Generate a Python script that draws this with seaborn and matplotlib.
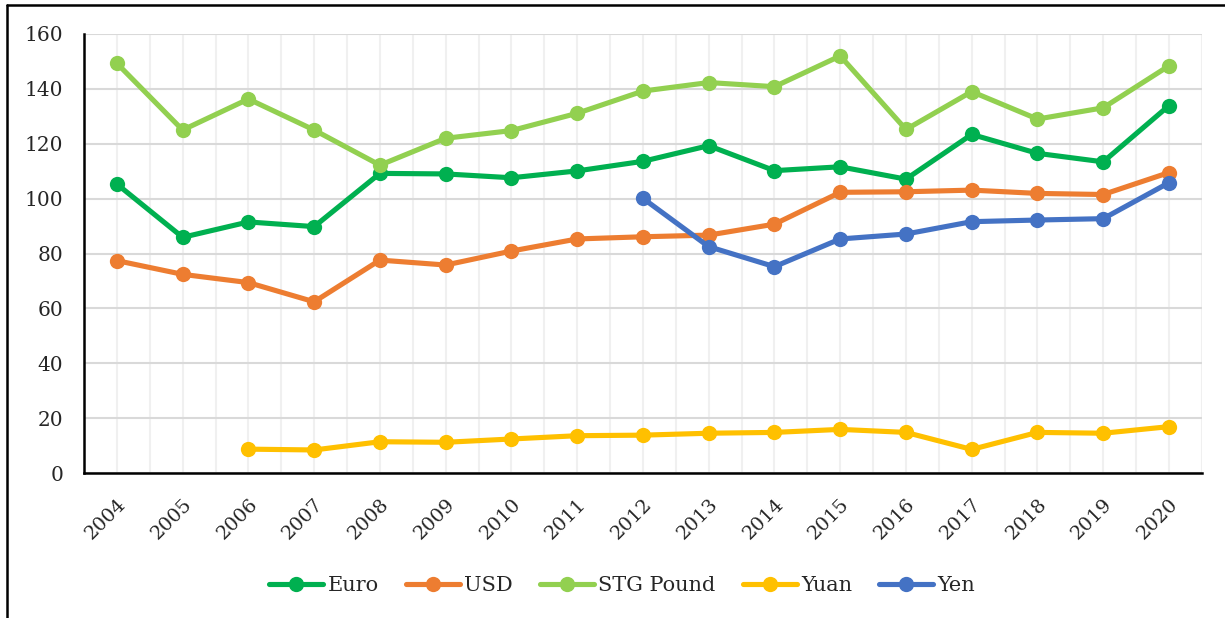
import numpy as np
import pandas as pd
import seaborn as sns
import matplotlib.pyplot as plt
from matplotlib.lines import Line2D
from matplotlib.ticker import MultipleLocator

# dados
years = list(range(2004, 2021))
euro = [105.3, 85.9, 91.5, 89.8, 109.2, 109.0, 107.6, 110.1, 113.6, 119.3, 110.2, 111.6, 107.1, 123.4, 116.5, 113.4, 133.9]
usd = [77.4, 72.4, 69.4, 62.4, 77.6, 75.8, 80.9, 85.3, 86.1, 86.7, 90.7, 102.3, 102.5, 103.1, 101.9, 101.5, 109.5]
stg = [149.3, 125.0, 136.3, 125.0, 112.2, 122.0, 124.8, 131.1, 139.2, 142.3, 140.8, 152.0, 125.2, 139.0, 129.0, 133.1, 148.4]
yuan = [np.nan, np.nan, 8.7, 8.4, 11.4, 11.2, 12.4, 13.6, 13.8, 14.5, 14.8, 15.9, 14.8, 8.6, 14.8, 14.5, 16.9]
yen = [np.nan] * 8 + [100.1, 82.5, 75.2, 85.3, 87.1, 91.6, 92.2, 92.7, 105.8]

series = {'Euro': euro, 'USD': usd, 'STG Pound': stg, 'Yuan': yuan, 'Yen': yen}
cores = {'Euro': '#00B050', 'USD': '#ED7D31', 'STG Pound': '#92D050',
         'Yuan': '#FFC000', 'Yen': '#4472C4'}

dados = pd.DataFrame([
    {'Ano': a, 'Valor': v, 'Moeda': nome}
    for nome, vals in series.items() for a, v in zip(years, vals)
]).dropna()

sns.set_style('white')
plt.rcParams['font.family'] = ['DejaVu Serif']

fig = plt.figure(figsize=(12.25, 6.18), dpi=100)
ax = fig.add_axes([0.0686, 0.2346, 0.9125, 0.7104])

sns.lineplot(data=dados, x='Ano', y='Valor', hue='Moeda', palette=cores,
             hue_order=list(series.keys()), marker='o', markersize=11,
             markeredgewidth=0, linewidth=3.7, legend=False, ax=ax, zorder=3)

ax.set_xlim(2003.5, 2020.5)
ax.set_ylim(0, 160)
ax.set_xticks(years)
ax.set_xticklabels([str(a) for a in years], rotation=45, ha='right',
                   rotation_mode='anchor', fontsize=14)
ax.xaxis.set_minor_locator(MultipleLocator(0.5))
ax.set_yticks(range(0, 161, 20))
ax.tick_params(axis='y', labelsize=14.5, length=0, pad=15)
ax.tick_params(axis='x', which='both', length=0, pad=16)
ax.set_xlabel('')
ax.set_ylabel('')

ax.grid(axis='y', color='#d9d9d9', linewidth=1.5, zorder=0)
ax.grid(axis='x', which='both', color='#f0f0f0', linewidth=1.5, zorder=0)
ax.set_axisbelow(True)

for lado in ['top', 'right']:
    ax.spines[lado].set_visible(False)
for lado in ['left', 'bottom']:
    ax.spines[lado].set_color('black')
    ax.spines[lado].set_linewidth(1.8)

handles = [Line2D([0], [0], color=cores[n], marker='o', markersize=11,
                  markeredgewidth=0, linewidth=3.7) for n in series]
fig.legend(handles, list(series.keys()), loc='center', bbox_to_anchor=(0.508, 0.052),
           ncol=5, frameon=False, fontsize=15, handlelength=2.6,
           handletextpad=0.2, columnspacing=1.3)

# moldura
fig.add_artist(Line2D([0.0057, 1], [0.992, 0.992], color='black', linewidth=1.8,
                      transform=fig.transFigure))
fig.add_artist(Line2D([0.0057, 0.0057], [0, 0.992], color='black', linewidth=1.8,
                      transform=fig.transFigure))

fig.savefig('out.png', dpi=100)
